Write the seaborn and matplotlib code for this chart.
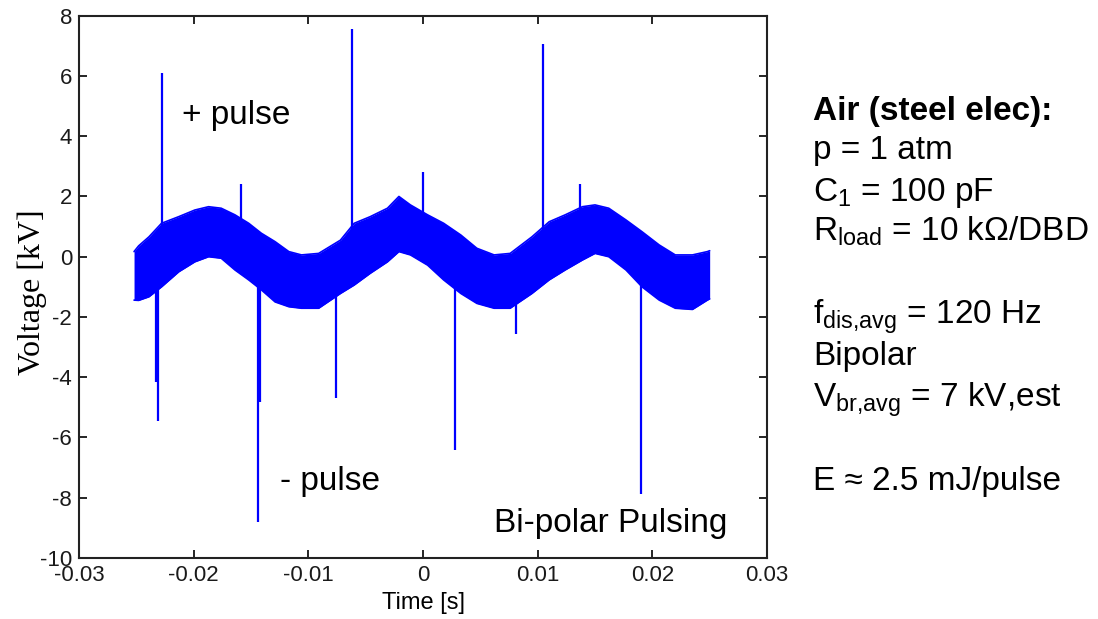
import matplotlib
matplotlib.use("Agg")
import matplotlib.pyplot as plt
import seaborn as sns
import pandas as pd

# ---- data ----
t_env = [-0.0252, -0.0248, -0.0239, -0.0228, -0.0213, -0.0199, -0.0187, -0.0176,
         -0.0164, -0.0152, -0.0141, -0.0129, -0.0117, -0.0106, -0.0091, -0.0072,
         -0.0060, -0.0046, -0.0031, -0.0021, -0.0011, 0.0004, 0.0018, 0.0033,
         0.0047, 0.0062, 0.0076, 0.0095, 0.0110, 0.0124, 0.0139, 0.0150,
         0.0162, 0.0177, 0.0191, 0.0206, 0.0220, 0.0235, 0.0248, 0.0250]
upper_env = [0.17, 0.36, 0.66, 1.11, 1.33, 1.55, 1.66, 1.61,
             1.39, 1.11, 0.78, 0.50, 0.17, 0.06, 0.11, 0.55,
             1.11, 1.33, 1.61, 2.00, 1.72, 1.39, 1.11, 0.72,
             0.28, 0.06, 0.11, 0.66, 1.16, 1.39, 1.66, 1.72,
             1.61, 1.22, 0.83, 0.39, 0.06, 0.06, 0.17, 0.20]
lower_env = [-1.44, -1.45, -1.33, -1.00, -0.50, -0.17, 0.00, -0.05,
             -0.44, -0.77, -1.10, -1.50, -1.66, -1.71, -1.71, -1.22,
             -0.94, -0.55, -0.17, 0.17, 0.06, -0.28, -0.77, -1.22,
             -1.55, -1.71, -1.71, -1.22, -0.77, -0.44, -0.11, 0.11,
             0.00, -0.44, -1.00, -1.44, -1.71, -1.75, -1.44, -1.40]

spike_times = [-0.02274, -0.0159, -0.00617, 0.0, 0.01048, 0.01368,
               -0.02327, -0.0231, -0.01437, -0.01423, -0.00763, 0.00275, 0.00813, 0.01903]
spike_peaks = [6.1, 2.4, 7.55, 2.8, 7.05, 2.4,
               -4.15, -5.45, -8.82, -4.82, -4.68, -6.42, -2.57, -7.86]

x_ticks = [-0.03, -0.02, -0.01, 0, 0.01, 0.02, 0.03]
x_tick_labels = ["-0.03", "-0.02", "-0.01", "0", "0.01", "0.02", "0.03"]
y_ticks = [-10, -8, -6, -4, -2, 0, 2, 4, 6, 8]
y_tick_labels = ["-10", "-8", "-6", "-4", "-2", "0", "2", "4", "6", "8"]

info_lines = [
    r"Air (steel elec):",
    r"p = 1 atm",
    r"C$_{\mathrm{1}}$ = 100 pF",
    r"R$_{\mathrm{load}}$ = 10 kΩ/DBD",
    r"f$_{\mathrm{dis{,}avg}}$ = 120 Hz",
    r"Bipolar",
    r"V$_{\mathrm{br{,}avg}}$ = 7 kV,est",
    r"E ≈ 2.5 mJ/pulse",
]
info_y_px = [111.7, 150, 193, 231.7, 316.7, 356.7, 400, 481.7]

# ---- style ----
sns.set_theme(style="ticks")
plt.rcParams["font.family"] = ["Liberation Sans", "DejaVu Sans"]
plt.rcParams["mathtext.fontset"] = "custom"
plt.rcParams["mathtext.rm"] = "Liberation Sans"
plt.rcParams["mathtext.it"] = "Liberation Sans:italic"
plt.rcParams["mathtext.bf"] = "Liberation Sans:bold"
plt.rcParams["axes.unicode_minus"] = False
plt.rcParams["text.color"] = "black"
plt.rcParams["axes.labelcolor"] = "black"

W, H = 1098, 619
fig = plt.figure(figsize=(W / 100, H / 100), dpi=100)
ax = fig.add_axes([79 / W, 1 - 558 / H, (767 - 79) / W, (558 - 15.7) / H])

blue = "#0000ff"
env = pd.DataFrame({"t": t_env, "upper": upper_env, "lower": lower_env})
ax.fill_between(env["t"], env["lower"], env["upper"], color=blue, linewidth=0, zorder=2)
sns.lineplot(data=env, x="t", y="upper", ax=ax, color=blue, linewidth=1.2, zorder=3)
sns.lineplot(data=env, x="t", y="lower", ax=ax, color=blue, linewidth=1.2, zorder=3)

for t, p in zip(spike_times, spike_peaks):
    ax.vlines(t, min(0, p), max(0, p), color=blue, linewidth=1.6, zorder=2)

ax.set_xlim(-0.03, 0.03)
ax.set_ylim(-10, 8)
ax.set_xticks(x_ticks)
ax.set_xticklabels(x_tick_labels)
ax.set_yticks(y_ticks)
ax.set_yticklabels(y_tick_labels)
ax.tick_params(direction="in", length=6, width=1.2, top=True, right=True,
               labelsize=16, colors="black", pad=5)
for lbl in ax.get_xticklabels() + ax.get_yticklabels():
    lbl.set_color("#1a1a1a")
for s in ax.spines.values():
    s.set_linewidth(1.5)
    s.set_color("#222222")

ax.set_xlabel("Time [s]", fontsize=17, labelpad=4)
ax.set_ylabel("Voltage [kV]", fontsize=23, family=["Liberation Serif", "DejaVu Serif"])
ax.yaxis.set_label_coords(-0.047, 0.49)

ax.text(-0.02106, 4.7, "+ pulse", fontsize=24, ha="left", va="center")
ax.text(-0.01243, -7.47, "- pulse", fontsize=24, ha="left", va="center")
ax.text(0.00615, -8.86, "Bi-polar Pulsing", fontsize=24, ha="left", va="center")

for i, (line, ypx) in enumerate(zip(info_lines, info_y_px)):
    fig.text(813 / W, 1 - ypx / H, line, fontsize=24, ha="left", va="center",
             fontweight="bold" if i == 0 else "normal")

fig.savefig("out.png", dpi=100, facecolor="white")
